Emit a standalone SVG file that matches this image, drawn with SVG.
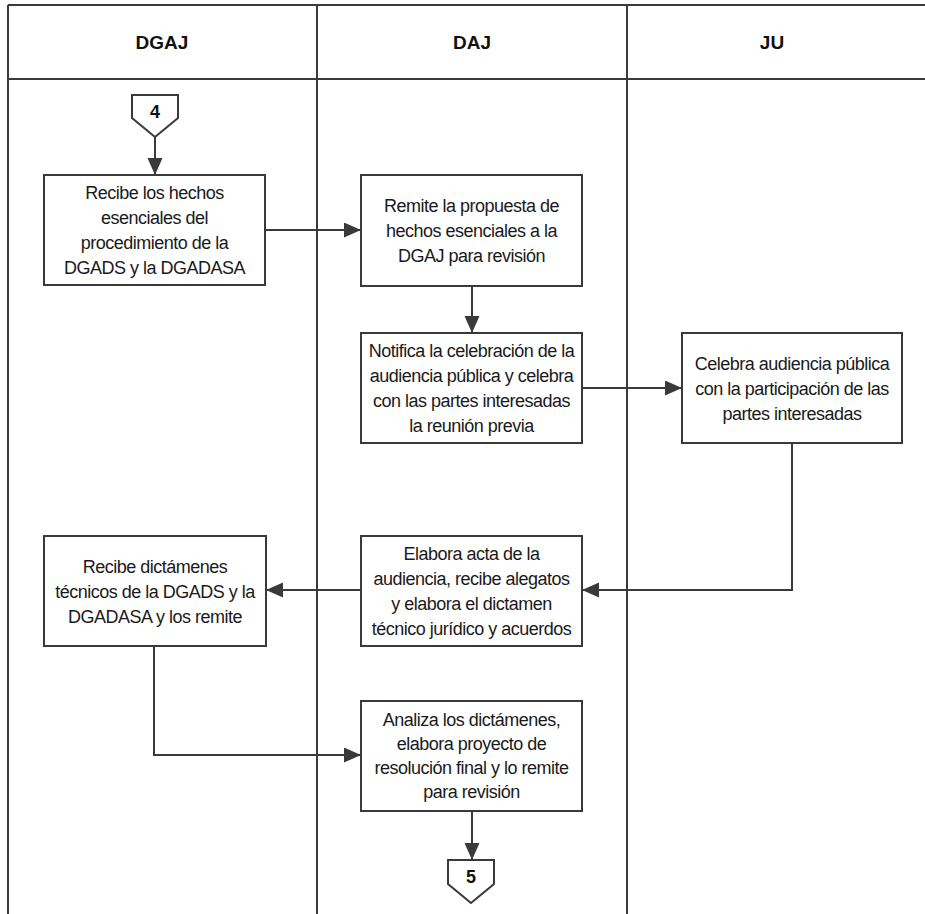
<svg xmlns="http://www.w3.org/2000/svg" width="925" height="914" viewBox="0 0 925 914">
  <style>
    .lane { fill: none; stroke: #3a3a3a; stroke-width: 2; }
    .box { fill: #ffffff; stroke: #3a3a3a; stroke-width: 2; }
    .off { fill: #ffffff; stroke: #3a3a3a; stroke-width: 2; }
    .hdr { font-family: "Liberation Sans Narrow", "Liberation Sans", Arial, sans-serif; font-weight: bold; font-size: 19px; fill: #111; text-anchor: middle; }
    .txt { font-family: "Liberation Sans", Arial, sans-serif; font-size: 18px; letter-spacing: -0.5px; fill: #1a1a1a; text-anchor: middle; }
    .num { font-family: "Liberation Sans", Arial, sans-serif; font-weight: bold; font-size: 18px; fill: #111; text-anchor: middle; }
    .conn { fill: none; stroke: #3a3a3a; stroke-width: 2; }
  </style>
  <defs>
    <marker id="arrow" markerUnits="userSpaceOnUse" markerWidth="18" markerHeight="16" refX="17" refY="7.5" orient="auto">
      <path d="M0,0 L17,7.5 L0,15 z" fill="#3a3a3a"/>
    </marker>
  </defs>

  <rect width="925" height="914" fill="#ffffff"/>

  <!-- swimlane frame -->
  <g id="lanes">
    <line class="lane" x1="8" y1="5" x2="925" y2="5"/>
    <line class="lane" x1="8" y1="79" x2="925" y2="79"/>
    <line class="lane" x1="8" y1="5" x2="8" y2="914"/>
    <line class="lane" x1="317" y1="5" x2="317" y2="914"/>
    <line class="lane" x1="627" y1="5" x2="627" y2="914"/>
    <text class="hdr" x="162" y="49">DGAJ</text>
    <text class="hdr" x="472" y="49">DAJ</text>
    <text class="hdr" x="772" y="49">JU</text>
  </g>

  <!-- connectors -->
  <g id="connectors">
    <line class="conn" x1="155" y1="137" x2="155" y2="175" marker-end="url(#arrow)"/>
    <line class="conn" x1="265" y1="230" x2="361" y2="230" marker-end="url(#arrow)"/>
    <line class="conn" x1="472" y1="286" x2="472" y2="333" marker-end="url(#arrow)"/>
    <line class="conn" x1="582" y1="388" x2="682" y2="388" marker-end="url(#arrow)"/>
    <polyline class="conn" points="792,443 792,590 582,590" marker-end="url(#arrow)"/>
    <line class="conn" x1="361" y1="590" x2="266" y2="590" marker-end="url(#arrow)"/>
    <polyline class="conn" points="154,646 154,755 361,755" marker-end="url(#arrow)"/>
    <line class="conn" x1="472" y1="811" x2="472" y2="860" marker-end="url(#arrow)"/>
  </g>

  <!-- off-page connector 4 -->
  <g id="off4">
    <path class="off" d="M132,95 L178,95 L178,118 L155,137 L132,118 z"/>
    <text class="num" x="155" y="118">4</text>
  </g>

  <g id="n1">
    <rect class="box" x="44" y="175" width="221" height="110"/>
    <text class="txt" x="154.5" y="199">Recibe los hechos</text>
    <text class="txt" x="154.5" y="224">esenciales del</text>
    <text class="txt" x="154.5" y="249">procedimiento de la</text>
    <text class="txt" x="154.5" y="274">DGADS y la DGADASA</text>
  </g>

  <g id="n2">
    <rect class="box" x="361" y="175" width="221" height="111"/>
    <text class="txt" x="471.5" y="212">Remite la propuesta de</text>
    <text class="txt" x="471.5" y="237">hechos esenciales a la</text>
    <text class="txt" x="471.5" y="262">DGAJ para revisión</text>
  </g>

  <g id="n3">
    <rect class="box" x="361" y="333" width="221" height="110"/>
    <text class="txt" x="471.5" y="357">Notifica la celebración de la</text>
    <text class="txt" x="471.5" y="382">audiencia pública y celebra</text>
    <text class="txt" x="471.5" y="407">con las partes interesadas</text>
    <text class="txt" x="471.5" y="432">la reunión previa</text>
  </g>

  <g id="n4">
    <rect class="box" x="682" y="333" width="220" height="110"/>
    <text class="txt" x="792" y="370">Celebra audiencia pública</text>
    <text class="txt" x="792" y="395">con la participación de las</text>
    <text class="txt" x="792" y="420">partes interesadas</text>
  </g>

  <g id="n5">
    <rect class="box" x="361" y="536" width="221" height="110"/>
    <text class="txt" x="471.5" y="560">Elabora  acta de la</text>
    <text class="txt" x="471.5" y="585">audiencia, recibe  alegatos</text>
    <text class="txt" x="471.5" y="610">y elabora el dictamen</text>
    <text class="txt" x="471.5" y="635">técnico jurídico  y acuerdos</text>
  </g>

  <g id="n6">
    <rect class="box" x="44" y="536" width="222" height="110"/>
    <text class="txt" x="155" y="573">Recibe  dictámenes</text>
    <text class="txt" x="155" y="598">técnicos de la DGADS y la</text>
    <text class="txt" x="155" y="623">DGADASA y los remite</text>
  </g>

  <g id="n7">
    <rect class="box" x="361" y="701" width="221" height="110"/>
    <text class="txt" x="471.5" y="726">Analiza los dictámenes,</text>
    <text class="txt" x="471.5" y="750">elabora proyecto de</text>
    <text class="txt" x="471.5" y="774">resolución final y lo remite</text>
    <text class="txt" x="471.5" y="798">para revisión</text>
  </g>

  <!-- off-page connector 5 -->
  <g id="off5">
    <path class="off" d="M448,860 L494,860 L494,884 L471,903 L448,884 z"/>
    <text class="num" x="471" y="883">5</text>
  </g>
</svg>
